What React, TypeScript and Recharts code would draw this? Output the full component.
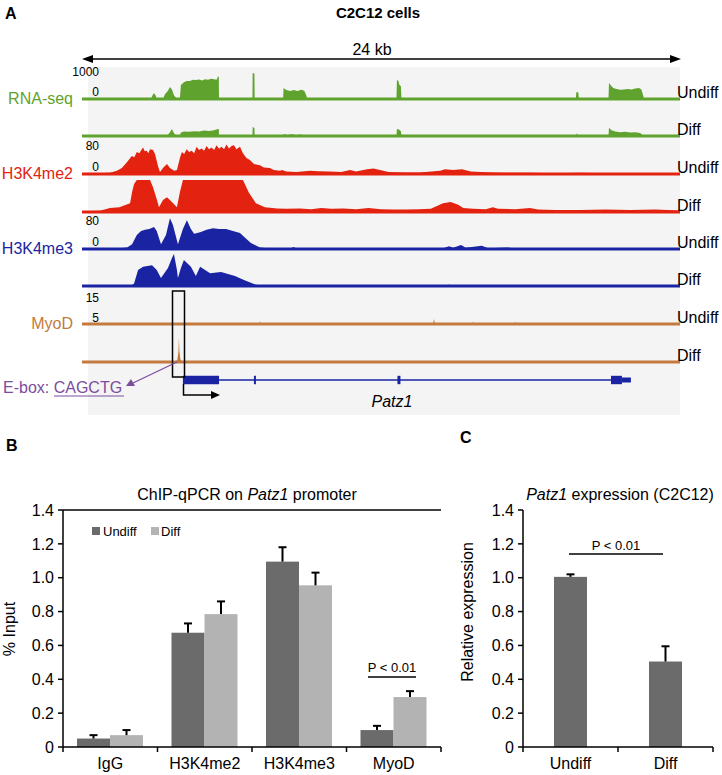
import React from 'react';
import {
  AreaChart, Area, BarChart, Bar, LineChart, Line, XAxis, YAxis, ReferenceLine, ReferenceArea,
} from 'recharts';

// ---- panel A: genome browser tracks, [position in kb, signal] ----
const rnaUndiff = [
  [0, 0], [2.77, 0], [2.83, 120], [2.89, 190], [2.95, 120], [3.01, 0],
  [3.25, 0], [3.33, 150], [3.45, 260], [3.53, 375], [3.61, 300], [3.69, 120], [3.79, 20], [3.93, 40],
  [3.97, 440], [4.09, 520], [4.2, 560], [4.33, 560], [4.45, 600], [4.57, 590], [4.7, 610], [4.82, 580],
  [4.94, 620], [5.06, 600], [5.18, 630], [5.3, 620], [5.4, 600], [5.46, 700], [5.49, 700], [5.5, 0],
  [6.84, 0], [6.85, 810], [6.92, 790], [6.93, 0],
  [8.07, 0], [8.09, 340], [8.2, 280], [8.35, 250], [8.5, 280], [8.65, 250], [8.8, 290], [8.92, 260], [9.0, 120], [9.04, 0],
  [12.62, 0], [12.64, 590], [12.7, 560], [12.74, 440], [12.8, 400], [12.82, 0],
  [19.82, 0], [19.84, 220], [19.92, 200], [19.94, 0],
  [21.13, 0], [21.15, 500], [21.22, 430], [21.32, 340], [21.45, 310], [21.6, 290], [21.75, 300], [21.9, 310],
  [22.05, 300], [22.2, 330], [22.35, 340], [22.45, 300], [22.52, 120], [22.56, 0],
  [24, 0],
];
const rnaDiff = [
  [0, 0], [3.41, 0], [3.53, 120], [3.61, 220], [3.7, 80], [3.79, 10],
  [3.93, 10], [3.97, 110], [4.1, 140], [4.3, 130], [4.5, 150], [4.7, 140], [4.9, 170], [5.1, 160],
  [5.3, 180], [5.46, 220], [5.49, 220], [5.5, 0],
  [6.84, 0], [6.85, 280], [6.92, 250], [6.93, 0],
  [8.07, 0], [8.1, 60], [8.25, 30], [8.4, 55], [8.6, 35], [8.8, 50], [9.0, 0],
  [12.62, 0], [12.64, 220], [12.72, 200], [12.8, 150], [12.82, 0],
  [19.84, 0], [19.86, 90], [19.92, 0],
  [21.13, 0], [21.15, 260], [21.25, 180], [21.4, 140], [21.6, 120], [21.8, 130], [22.0, 110],
  [22.2, 120], [22.4, 90], [22.55, 0],
  [24, 0],
];
const me2Undiff = [
  [0, 1], [0.72, 2], [1.12, 3], [1.4, 8], [1.6, 15], [1.81, 30], [2.0, 45], [2.1, 42], [2.2, 55], [2.3, 52],
  [2.4, 62], [2.45, 66], [2.52, 57], [2.6, 58], [2.66, 52], [2.73, 62], [2.85, 60], [2.93, 50], [3.05, 20],
  [3.13, 5], [3.25, 15], [3.41, 25], [3.53, 15], [3.7, 8], [3.81, 10], [3.93, 40], [4.01, 55], [4.1, 50],
  [4.2, 62], [4.3, 55], [4.4, 58], [4.5, 52], [4.6, 68], [4.7, 60], [4.8, 64], [4.9, 58], [5.0, 70],
  [5.1, 62], [5.2, 66], [5.3, 60], [5.4, 72], [5.5, 63], [5.6, 68], [5.7, 62], [5.8, 74], [5.9, 64],
  [6.0, 70], [6.1, 72], [6.2, 62], [6.34, 68], [6.46, 52], [6.6, 40], [6.74, 35], [6.9, 25], [7.14, 22],
  [7.3, 16], [7.54, 15], [7.7, 10], [7.95, 8], [8.03, 10], [8.2, 6], [8.6, 5], [9.15, 8], [9.5, 7], [9.95, 6],
  [10.4, 5], [10.76, 10], [11.0, 6], [11.44, 12], [11.7, 14], [11.96, 10], [12.3, 5], [13.0, 4],
  [13.56, 4], [14.37, 8], [14.57, 12], [14.9, 10], [15.25, 12], [15.6, 6], [16.0, 5], [16.5, 4],
  [17.0, 3], [18.0, 3], [19.0, 2], [20.0, 3], [21.0, 2], [22.0, 2], [23.0, 2], [24, 2],
];
const me2Diff = [
  [0, 2], [0.72, 3], [1.12, 10], [1.5, 12], [1.93, 22], [2.01, 50], [2.09, 70], [2.2, 80], [2.73, 80],
  [2.85, 62], [3.01, 30], [3.09, 12], [3.25, 30], [3.41, 37], [3.61, 25], [3.81, 12], [3.93, 50],
  [4.05, 80], [6.46, 80], [6.7, 48], [6.98, 22], [7.34, 12], [7.83, 9], [8.2, 8], [8.75, 9], [9.2, 7],
  [9.6, 10], [10.0, 8], [10.5, 9], [11.0, 7], [11.5, 10], [12.0, 7], [12.5, 6], [13.0, 6], [13.5, 7],
  [14.0, 8], [14.49, 22], [14.8, 25], [15.1, 18], [15.3, 10], [15.7, 8], [16.2, 7], [16.49, 12],
  [16.7, 8], [17.38, 7], [17.98, 10], [18.3, 6], [19.0, 5], [20, 5], [21, 6], [22, 5], [23, 6], [24, 4],
];
const me3Undiff = [
  [0, 1], [1.4, 1], [1.81, 4], [2.01, 12], [2.2, 35], [2.37, 45], [2.53, 48], [2.7, 50], [2.89, 55],
  [3.0, 45], [3.17, 12], [3.37, 35], [3.53, 77], [3.65, 60], [3.85, 12], [4.05, 50], [4.21, 72],
  [4.37, 50], [4.5, 38], [4.74, 42], [5.0, 48], [5.26, 52], [5.5, 50], [5.78, 50], [6.06, 45],
  [6.34, 40], [6.6, 25], [6.78, 15], [7.14, 4], [7.5, 2], [8.4, 2], [8.47, 5], [8.6, 2], [10, 2],
  [12, 1.5], [14.5, 2], [14.73, 7], [14.9, 3], [15.21, 10], [15.4, 3], [16.05, 8], [16.3, 2],
  [17.06, 4], [17.3, 2], [20, 1.5], [24, 1.5],
];
const me3Diff = [
  [0, 1], [2.0, 2], [2.09, 6], [2.25, 40], [2.45, 48], [2.81, 52], [3.0, 40], [3.17, 20], [3.45, 45],
  [3.61, 70], [3.69, 80], [3.81, 40], [3.85, 20], [3.97, 45], [4.09, 65], [4.37, 48], [4.57, 25],
  [4.74, 48], [5.14, 32], [5.58, 35], [6.14, 25], [6.5, 15], [6.7, 10], [6.98, 3], [7.2, 1],
  [8.4, 1], [8.47, 3], [8.6, 1], [11, 1.5], [14.6, 1], [14.73, 3], [15, 1], [19, 1.5], [24, 1],
];
const myodUndiff = [
  [0, 0], [7.1, 0], [7.14, 1.3], [7.18, 0], [14.09, 0], [14.13, 2.4], [14.17, 0],
  [15.65, 0], [15.69, 1], [15.73, 0], [17.34, 0], [17.38, 1], [17.42, 0], [24, 0],
];
const myodDiff = [
  [0, 0], [3.75, 0], [3.83, 1.2], [3.87, 5], [3.89, 11.2], [3.91, 5], [3.95, 1.2], [4.03, 0], [24, 0],
];

// Patz1 gene model (kb)
const exonStart = [4.05, 6.9, 12.66, 21.23];
const exonEnd = [5.5, 6.98, 12.78, 21.67];
const utrStart = 21.67;
const utrEnd = 22.03;

// ---- panel B: ChIP-qPCR ----
const chipCategories = ['IgG', 'H3K4me2', 'H3K4me3', 'MyoD'];
const chipUndiff = [0.05, 0.675, 1.095, 0.1];
const chipUndiffErr = [0.02, 0.055, 0.085, 0.025];
const chipDiff = [0.07, 0.785, 0.955, 0.295];
const chipDiffErr = [0.03, 0.075, 0.075, 0.035];

// ---- panel C: expression ----
const exprGroups = ['Undiff', 'Diff'];
const exprValues = [1.005, 0.505];
const exprErr = [0.015, 0.09];

const yTicks = [0, 0.2, 0.4, 0.6, 0.8, 1.0, 1.2, 1.4];

const GREEN = '#5fa32e';
const RED = '#e3230f';
const BLUE = '#1a24a3';
const BROWN = '#c37a3e';
const PURPLE = '#7a4d9e';
const DARK = '#6b6b6b';
const LIGHT = '#b3b3b3';
const FONT = '"Liberation Sans", Arial, sans-serif';

const TRACK_LEFT = 82;
const TRACK_W = 598;

function Track({ points, color, max, lineY }: { points: number[][]; color: string; max: number; lineY: number }) {
  const data = points.map(([x, y]) => ({ x, y }));
  return (
    <div style={{ position: 'absolute', left: TRACK_LEFT, top: lineY - 34, width: TRACK_W, height: 36 }}>
      <AreaChart width={TRACK_W} height={36} data={data} margin={{ top: 2, right: 0, bottom: 2, left: 0 }}>
        <XAxis type="number" dataKey="x" domain={[0, 24]} hide />
        <YAxis domain={[0, max]} hide allowDataOverflow />
        <Area type="linear" dataKey="y" stroke="none" fill={color} fillOpacity={1} isAnimationActive={false} />
        <ReferenceLine y={0} stroke={color} strokeWidth={3} />
      </AreaChart>
    </div>
  );
}

function GeneModel() {
  const data = [{ x: 0, y: 0 }, { x: 24, y: 0 }];
  return (
    <div style={{ position: 'absolute', left: TRACK_LEFT, top: 370, width: TRACK_W, height: 20 }}>
      <LineChart width={TRACK_W} height={20} data={data} margin={{ top: 0, right: 0, bottom: 0, left: 0 }}>
        <XAxis type="number" dataKey="x" domain={[0, 24]} hide />
        <YAxis domain={[-1, 1]} hide />
        <Line dataKey="y" stroke="none" dot={false} isAnimationActive={false} />
        <ReferenceLine segment={[{ x: exonEnd[0], y: 0 }, { x: exonStart[3], y: 0 }]} stroke={BLUE} strokeWidth={1.5} />
        {exonStart.map((s, i) => (
          <ReferenceArea key={i} x1={s} x2={exonEnd[i]} y1={-0.42} y2={0.42} fill={BLUE} fillOpacity={1} stroke="none" />
        ))}
        <ReferenceArea x1={utrStart} x2={utrEnd} y1={-0.25} y2={0.25} fill={BLUE} fillOpacity={1} stroke="none" />
      </LineChart>
    </div>
  );
}

function errShape(valKey: string, errKey: string) {
  return (p: any) => {
    const { x, y, width, height, fill, payload } = p;
    const v = payload[valKey];
    const e = payload[errKey];
    const yTop = y - (e * height) / v;
    const cx = x + width / 2;
    return (
      <g>
        <rect x={x} y={y} width={width} height={height} fill={fill} />
        <line x1={cx} x2={cx} y1={y} y2={yTop} stroke="#000" strokeWidth={2} />
        <line x1={cx - 4} x2={cx + 4} y1={yTop} y2={yTop} stroke="#000" strokeWidth={2} />
      </g>
    );
  };
}

function CatTick(props: any) {
  const { x, y, payload, index, half } = props;
  const base = y - 11;
  return (
    <g>
      {index === 0 && <line x1={x - half} x2={x - half} y1={base} y2={base + 5} stroke="#000" strokeWidth={1.5} />}
      <line x1={x + half} x2={x + half} y1={base} y2={base + 5} stroke="#000" strokeWidth={1.5} />
      <text x={x} y={y} dy="0.71em" textAnchor="middle" fontSize={16} fill="#000">{payload.value}</text>
    </g>
  );
}

const fmt = (v: number) => (v === 0 ? '0' : v.toFixed(1));

function ChipChart() {
  const data = chipCategories.map((c, i) => ({
    name: c, undiff: chipUndiff[i], undiffErr: chipUndiffErr[i], diff: chipDiff[i], diffErr: chipDiffErr[i],
  }));
  return (
    <div style={{ position: 'absolute', left: 0, top: 480, width: 450, height: 295 }}>
      <BarChart width={450} height={295} data={data} margin={{ top: 30, right: 9, left: 0, bottom: 0 }} barGap={0} barSize={33}>
        <XAxis dataKey="name" interval={0} height={28} tickLine={false} tickSize={5} tickMargin={6}
          axisLine={{ stroke: '#000', strokeWidth: 1.5 }} tick={<CatTick half={378 / 4 / 2} />} />
        <YAxis domain={[0, 1.4]} ticks={yTicks} tickFormatter={fmt} width={63} tickSize={5} tickMargin={4}
          axisLine={{ stroke: '#000', strokeWidth: 1.5 }} tickLine={{ stroke: '#000', strokeWidth: 1.5 }}
          tick={{ fill: '#000', fontSize: 16 }} />
        <YAxis yAxisId="r" orientation="right" width={0} domain={[0, 1.4]} tick={false} tickLine={false}
          axisLine={{ stroke: '#000', strokeWidth: 1.5 }} />
        <ReferenceLine y={1.4} stroke="#000" strokeWidth={1.5} />
        <Bar dataKey="undiff" fill={DARK} isAnimationActive={false} shape={errShape('undiff', 'undiffErr')} />
        <Bar dataKey="diff" fill={LIGHT} isAnimationActive={false} shape={errShape('diff', 'diffErr')} />
      </BarChart>
    </div>
  );
}

function ExprChart() {
  const data = exprGroups.map((g, i) => ({ name: g, v: exprValues[i], err: exprErr[i] }));
  return (
    <div style={{ position: 'absolute', left: 460, top: 480, width: 262, height: 295 }}>
      <BarChart width={262} height={295} data={data} margin={{ top: 30, right: 9, left: 0, bottom: 0 }} barSize={33}>
        <XAxis dataKey="name" interval={0} height={28} tickLine={false} tickSize={5} tickMargin={6}
          axisLine={{ stroke: '#000', strokeWidth: 1.5 }} tick={<CatTick half={190 / 2 / 2} />} />
        <YAxis domain={[0, 1.4]} ticks={yTicks} tickFormatter={fmt} width={63} tickSize={5} tickMargin={4}
          axisLine={{ stroke: '#000', strokeWidth: 1.5 }} tickLine={{ stroke: '#000', strokeWidth: 1.5 }}
          tick={{ fill: '#000', fontSize: 16 }} />
        <Bar dataKey="v" fill={DARK} isAnimationActive={false} shape={errShape('v', 'err')} />
      </BarChart>
    </div>
  );
}

const trackLines = [99, 136, 174, 212, 249, 286, 324, 362];

export default function App() {
  return (
    <div style={{ position: 'absolute', left: 0, top: 0, width: 722, height: 775, background: '#fff', overflow: 'hidden', fontFamily: FONT }}>
      <div style={{ position: 'absolute', left: 88, top: 67, width: 592, height: 348, background: '#f4f4f4' }} />
      <Track points={rnaUndiff} color={GREEN} max={1000} lineY={trackLines[0]} />
      <Track points={rnaDiff} color={GREEN} max={1000} lineY={trackLines[1]} />
      <Track points={me2Undiff} color={RED} max={80} lineY={trackLines[2]} />
      <Track points={me2Diff} color={RED} max={80} lineY={trackLines[3]} />
      <Track points={me3Undiff} color={BLUE} max={80} lineY={trackLines[4]} />
      <Track points={me3Diff} color={BLUE} max={80} lineY={trackLines[5]} />
      <Track points={myodUndiff} color={BROWN} max={15} lineY={trackLines[6]} />
      <Track points={myodDiff} color={BROWN} max={15} lineY={trackLines[7]} />
      <GeneModel />
      <ChipChart />
      <ExprChart />

      <svg width={722} height={775} style={{ position: 'absolute', left: 0, top: 0, pointerEvents: 'none' }} fontFamily={FONT}>
        {/* panel A */}
        <text x={5} y={19} fontSize={16} fontWeight="bold">A</text>
        <text x={378} y={18} fontSize={15} fontWeight="bold" textAnchor="middle">C2C12 cells</text>
        <line x1={90} x2={673} y1={59} y2={59} stroke="#000" strokeWidth={1.5} />
        <polygon points="82,59 93,55 93,63" fill="#000" />
        <polygon points="681,59 670,55 670,63" fill="#000" />
        <text x={372} y={55} fontSize={16} textAnchor="middle">24 kb</text>

        <text x={73} y={104} fontSize={16} textAnchor="end" fill={GREEN}>RNA-seq</text>
        <text x={73} y={179} fontSize={16} textAnchor="end" fill={RED}>H3K4me2</text>
        <text x={73} y={254} fontSize={16} textAnchor="end" fill={BLUE}>H3K4me3</text>
        <text x={73} y={329} fontSize={16} textAnchor="end" fill={BROWN}>MyoD</text>

        <g fontSize={12} textAnchor="end">
          <text x={99} y={76}>1000</text>
          <text x={99} y={96}>0</text>
          <text x={99} y={150}>80</text>
          <text x={99} y={171}>0</text>
          <text x={99} y={225}>80</text>
          <text x={99} y={246}>0</text>
          <text x={99} y={302}>15</text>
          <text x={99} y={322}>5</text>
        </g>
        <g fontSize={16}>
          {trackLines.map((ly, i) => (
            <text key={i} x={677} y={ly - 1}>{i % 2 === 0 ? 'Undiff' : 'Diff'}</text>
          ))}
        </g>

        <rect x={172.5} y={291} width={12} height={86} fill="none" stroke="#000" strokeWidth={1.5} />
        <line x1={177} y1={362} x2={133} y2={383} stroke={PURPLE} strokeWidth={1.2} />
        <polygon points="126,386 131,379 135,386" fill={PURPLE} />
        <text x={3} y={393} fontSize={16} fill={PURPLE}>E-box: CAGCTG</text>
        <line x1={54} x2={124} y1={396} y2={396} stroke={PURPLE} strokeWidth={1} />

        <path d="M183.5 384 V395 H212" fill="none" stroke="#000" strokeWidth={1.5} />
        <polygon points="220,395 211,391 211,399" fill="#000" />
        <text x={392} y={407} fontSize={16} fontStyle="italic" textAnchor="middle">Patz1</text>

        {/* panel B */}
        <text x={6} y={451} fontSize={16} fontWeight="bold">B</text>
        <text x={247} y={500} fontSize={16} textAnchor="middle">
          ChIP-qPCR on <tspan fontStyle="italic">Patz1</tspan> promoter
        </text>
        <text x={15} y={629} fontSize={16} textAnchor="middle" transform="rotate(-90 15 629)">% Input</text>
        <rect x={92} y={527} width={8} height={8} fill={DARK} />
        <text x={103} y={536} fontSize={13}>Undiff</text>
        <rect x={151} y={527} width={8} height={8} fill={LIGHT} />
        <text x={161} y={536} fontSize={13}>Diff</text>
        <text x={392} y={672} fontSize={13} textAnchor="middle">P &lt; 0.01</text>
        <line x1={368} x2={416} y1={677} y2={677} stroke="#000" strokeWidth={1.5} />

        {/* panel C */}
        <text x={460} y={443} fontSize={16} fontWeight="bold">C</text>
        <text x={620} y={500} fontSize={16} textAnchor="middle">
          <tspan fontStyle="italic">Patz1</tspan> expression (C2C12)
        </text>
        <text x={473} y={612} fontSize={16} textAnchor="middle" transform="rotate(-90 473 612)">Relative expression</text>
        <text x={616} y={550} fontSize={13} textAnchor="middle">P &lt; 0.01</text>
        <line x1={569} x2={663} y1={554} y2={554} stroke="#000" strokeWidth={1.5} />
      </svg>
    </div>
  );
}
